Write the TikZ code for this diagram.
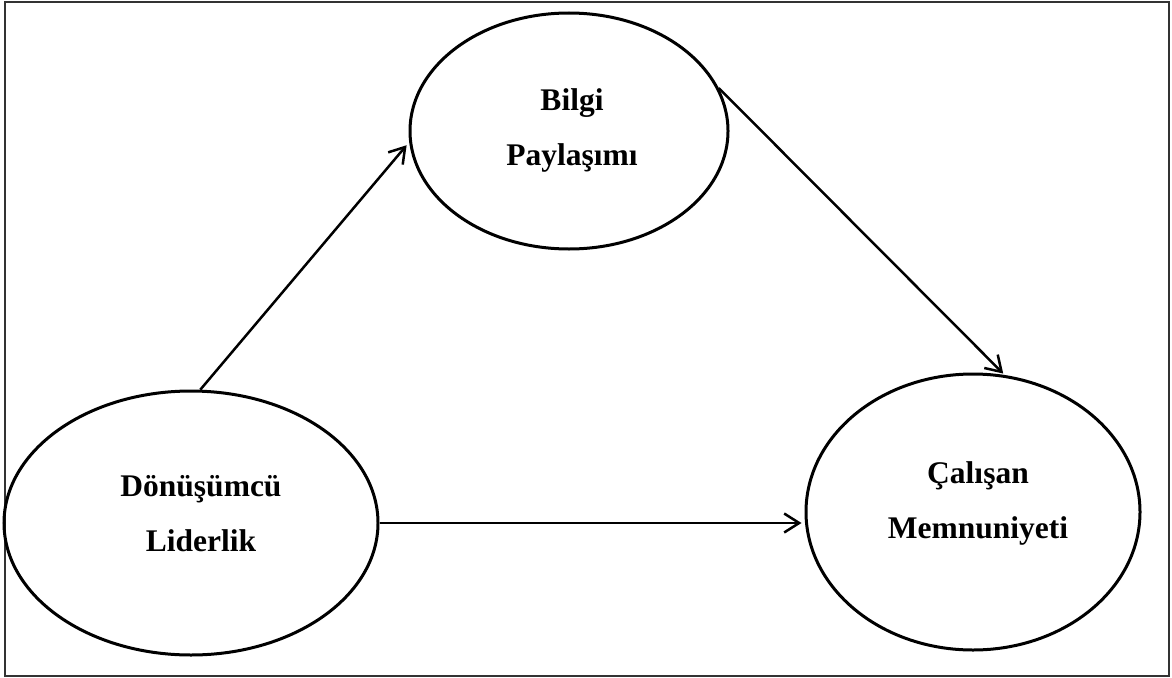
\documentclass[tikz,border=0pt]{standalone}
\usepackage{fontspec}
\setmainfont{Liberation Serif}
\usetikzlibrary{shapes.geometric,arrows.meta}
\begin{document}
\begin{tikzpicture}[x=1pt,y=-1pt,
  construct/.style={draw, ellipse, line width=3pt, inner sep=0pt},
  caption/.style={anchor=base, inner sep=0pt, font=\fontsize{31.5}{38}\selectfont\bfseries},
  link/.style={line width=2.5pt, -{Straight Barb[length=15pt,width=19pt]}}]
  \useasboundingbox (0,0) rectangle (1172,677);
  % outer frame
  \draw[line width=2pt, black!80] (5,2.5) rectangle (1169,675.5);

  % constructs
  \node[construct, minimum width=318pt, minimum height=236pt] (bp) at (569,131) {};
  \node[construct, minimum width=374pt, minimum height=264pt] (dl) at (191,523) {};
  \node[construct, minimum width=334pt, minimum height=276pt] (cm) at (973,512) {};

  % labels
  \node[caption] (bp1) at (572,110) {Bilgi};
  \node[caption] (bp2) at (572,165) {Paylaşımı};
  \node[caption] (dl1) at (201,496) {Dönüşümcü};
  \node[caption] (dl2) at (201,551) {Liderlik};
  \node[caption] (cm1) at (978,483) {Çalışan};
  \node[caption] (cm2) at (978,538) {Memnuniyeti};

  % paths
  \draw[link, shorten >=4pt] (dl.86.5) -- (bp.184);
  \draw[link, shorten >=2pt] (bp.16) -- (cm.77);
  \draw[link, shorten >=3pt] (dl.east) -- (dl.east -| cm.west);
\end{tikzpicture}
\end{document}
